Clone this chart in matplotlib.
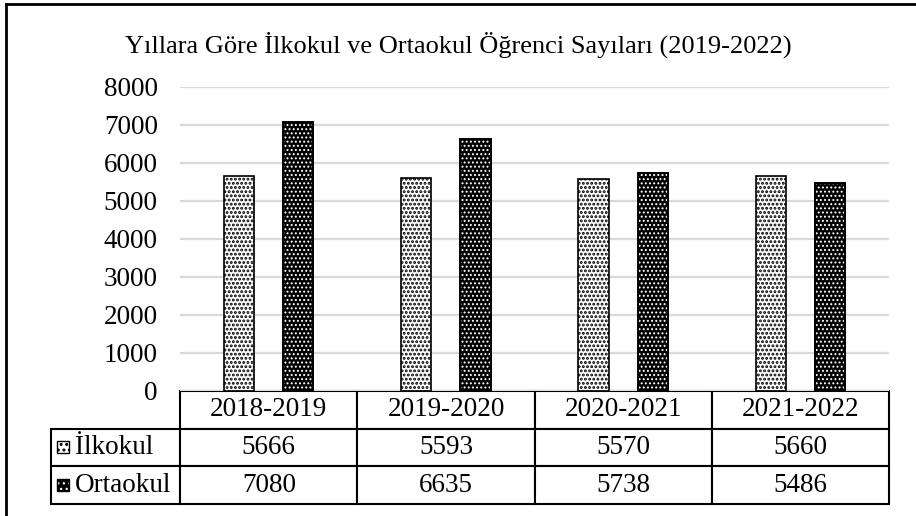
import matplotlib.pyplot as plt
import numpy as np
from matplotlib.patches import Rectangle
from matplotlib.lines import Line2D

# Datos
yillar = ['2018-2019', '2019-2020', '2020-2021', '2021-2022']
ilkokul = [5666, 5593, 5570, 5660]
ortaokul = [7080, 6635, 5738, 5486]
seriler = ['İlkokul', 'Ortaokul']

plt.rcParams['font.family'] = ['Liberation Serif', 'DejaVu Serif']

fig = plt.figure(figsize=(9.16, 5.16), dpi=100)
ax = fig.add_axes([180 / 916, 1 - 391 / 516, 709 / 916, 304 / 516])

x = np.arange(len(yillar))
w = 0.17
off = 0.167

# İlkokul: beyaz zemin, siyah noktalar
with plt.rc_context({'hatch.linewidth': 1.4}):
    ax.bar(x - off, ilkokul, w, color='white', edgecolor='black', hatch='....', linewidth=1.2, zorder=3)
# Ortaokul: siyah zemin, beyaz noktalar + siyah kenar
with plt.rc_context({'hatch.linewidth': 0.9}):
    ax.bar(x + off, ortaokul, w, color='black', edgecolor='white', hatch='....', linewidth=0, zorder=3)
ax.bar(x + off, ortaokul, w, fill=False, edgecolor='black', linewidth=1.4, zorder=4)

ax.set_xlim(-0.5, len(yillar) - 0.5)
ax.set_ylim(0, 8000)
ax.set_yticks(range(0, 8001, 1000))
ax.tick_params(axis='y', length=0, pad=16, labelsize=19.5)
ax.set_xticks([])
ax.yaxis.grid(True, color='#d9d9d9', linewidth=1.6, zorder=0)
for s in ax.spines.values():
    s.set_visible(False)

# Veri tablosu (ilk sütun seri adları için)
hucreler = [[''] + [str(v) for v in ilkokul], [''] + [str(v) for v in ortaokul]]
tablo = ax.table(cellText=hucreler, colLabels=[''] + yillar,
                 cellLoc='center', colWidths=[129 / 838] + [177 / 838] * 4,
                 bbox=[-129 / 709, -113 / 304, 838 / 709, 113 / 304])
tablo.auto_set_font_size(False)
for (r, c), cell in tablo.get_celld().items():
    cell.set_linewidth(1.5)
    cell.set_edgecolor('black')
    cell.get_text().set_fontsize(19.5)
tablo[(0, 0)].visible_edges = ''

# Satır etiketleri ve gösterge kutuları
satir_y = [(391 - 447) / 304, (391 - 485) / 304]
desenler = [('white', 'black', 1.4), ('black', 'white', 0.9)]
for ad, yy, (fc, hc, hlw) in zip(seriler, satir_y, desenler):
    ax.text(-105 / 709, yy, ad, transform=ax.transAxes, ha='left', va='center',
            fontsize=19.5, clip_on=False)
    with plt.rc_context({'hatch.linewidth': hlw}):
        ax.add_patch(Rectangle((-123 / 709, yy - 6 / 304), 12 / 709, 12 / 304, transform=ax.transAxes,
                               facecolor=fc, edgecolor=hc, hatch='...', linewidth=0, clip_on=False))
    ax.add_patch(Rectangle((-123 / 709, yy - 6 / 304), 12 / 709, 12 / 304, transform=ax.transAxes,
                           fill=False, edgecolor='black', linewidth=1, clip_on=False))

fig.text(458 / 916, 1 - 45 / 516, 'Yıllara Göre İlkokul ve Ortaokul Öğrenci Sayıları (2019-2022)',
         ha='center', va='center', fontsize=19)

# Dış çerçeve (sol ve üst)
fig.add_artist(Line2D([6 / 916, 6 / 916], [0, 1 - 4 / 516], color='black', linewidth=2))
fig.add_artist(Line2D([6 / 916, 1], [1 - 4 / 516, 1 - 4 / 516], color='black', linewidth=2))

fig.savefig('out.png', dpi=100)
